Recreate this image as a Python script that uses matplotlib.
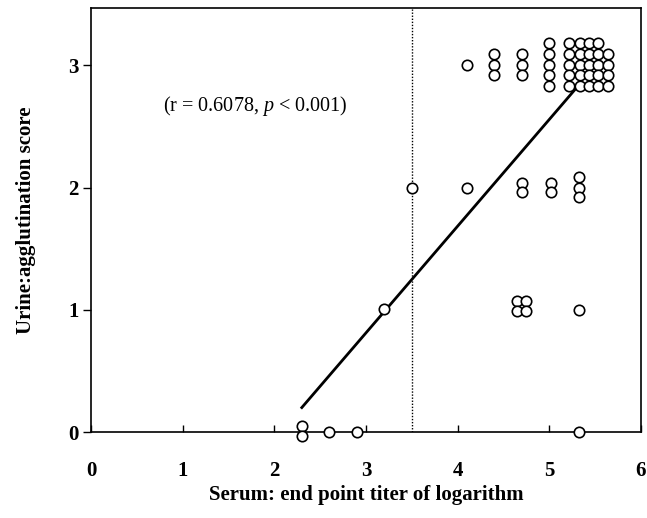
import matplotlib
matplotlib.use("Agg")
import matplotlib.pyplot as plt

# Data points (serum log titer, urine agglutination score; stacked points offset vertically)
x_pts = [
    # score 3
    4.1,
    4.4, 4.4, 4.4,
    4.7, 4.7, 4.7,
    5.0, 5.0, 5.0, 5.0, 5.0,
    5.22, 5.33, 5.43, 5.53,
    5.22, 5.33, 5.43, 5.53, 5.64,
    5.22, 5.33, 5.43, 5.53, 5.64,
    5.22, 5.33, 5.43, 5.53, 5.64,
    5.22, 5.33, 5.43, 5.53, 5.64,
    # score 2
    3.5, 4.1, 4.7, 4.7, 5.02, 5.02, 5.32, 5.32, 5.32,
    # score 1
    3.2, 4.65, 4.75, 4.65, 4.75, 5.32,
    # score 0
    2.3, 2.3, 2.6, 2.9, 5.32,
]
y_pts = [
    3.0,
    3.09, 3.0, 2.92,
    3.09, 3.0, 2.92,
    3.18, 3.09, 3.0, 2.92, 2.83,
    3.18, 3.18, 3.18, 3.18,
    3.09, 3.09, 3.09, 3.09, 3.09,
    3.0, 3.0, 3.0, 3.0, 3.0,
    2.92, 2.92, 2.92, 2.92, 2.92,
    2.83, 2.83, 2.83, 2.83, 2.83,
    2.0, 2.0, 2.04, 1.96, 2.04, 1.96, 2.09, 2.0, 1.92,
    1.01, 1.07, 1.07, 0.99, 0.99, 1.0,
    0.05, -0.03, 0.0, 0.0, 0.0,
]
fit_x = [2.3, 5.3]
fit_y = [0.2, 2.82]
cutoff_x = 3.5
x_ticks = [0, 1, 2, 3, 4, 5, 6]
y_ticks = [0, 1, 2, 3]

plt.rcParams['font.family'] = ['Liberation Serif', 'DejaVu Serif']
plt.rcParams['mathtext.fontset'] = 'custom'
plt.rcParams['mathtext.rm'] = 'Liberation Serif'
plt.rcParams['mathtext.it'] = 'Liberation Serif:italic'

fig = plt.figure(figsize=(6.47, 5.18), dpi=100)
ax = fig.add_axes([0.1406, 0.166, 0.8501, 0.8186])

ax.plot(fit_x, fit_y, color='black', lw=2, zorder=2)
ax.axvline(cutoff_x, color='black', lw=1, ls=(0, (1, 1.2)), zorder=1)
ax.plot(x_pts, y_pts, 'o', mfc='white', mec='black', ms=7.5, mew=1.2,
        ls='none', clip_on=False, zorder=3)

ax.set_xlim(0, 6)
ax.set_ylim(0, 3.47)
ax.set_xticks(x_ticks)
ax.set_yticks(y_ticks)
ax.tick_params(axis='x', direction='in', length=5, width=1, pad=21, labelsize=15)
ax.tick_params(axis='y', direction='out', length=6, width=1, pad=3, labelsize=15)
for lab in ax.get_xticklabels() + ax.get_yticklabels():
    lab.set_fontweight('bold')
for s in ax.spines.values():
    s.set_linewidth(1.2)

ax.text(0.79, 2.67, r'(r = 0.6078, $\it{p}$ < 0.001)', fontsize=14.5, va='center', ha='left')

ax.set_xlabel('Serum: end point titer of logarithm', fontsize=15, fontweight='bold', labelpad=3)
ax.set_ylabel('Urine:agglutination score', fontsize=15, fontweight='bold', labelpad=23)

fig.savefig('out.png', dpi=100)
